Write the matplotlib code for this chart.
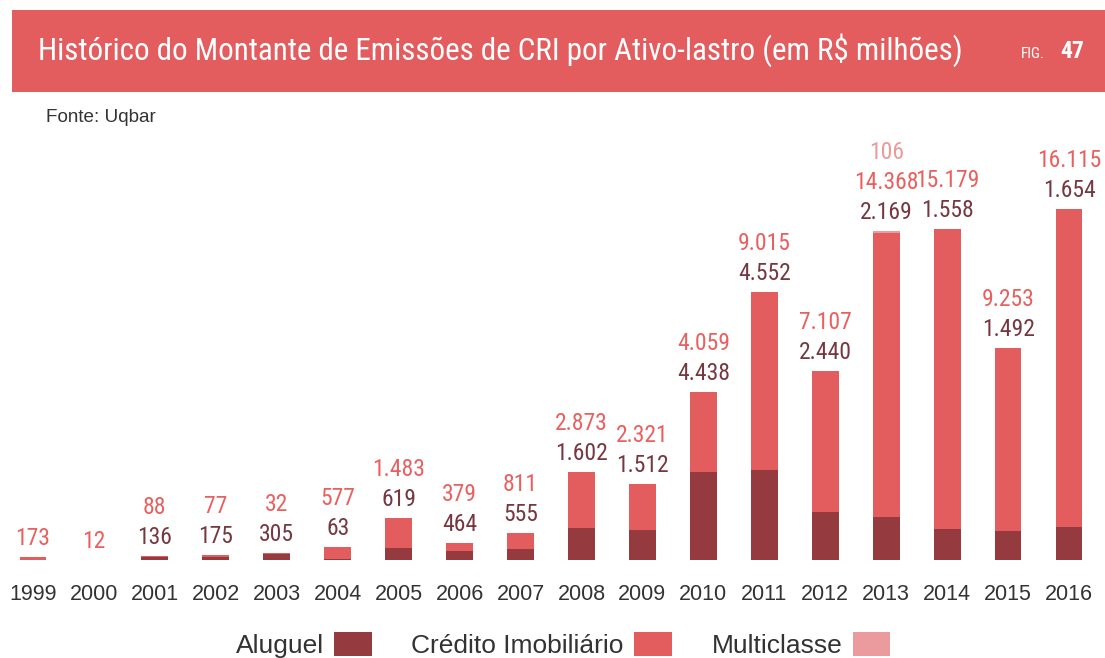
import matplotlib
matplotlib.use("Agg")
import matplotlib.pyplot as plt
from matplotlib.patches import Rectangle, Patch
import numpy as np

years = [str(y) for y in range(1999, 2017)]
aluguel = [0, 0, 136, 175, 305, 63, 619, 464, 555, 1602, 1512, 4438, 4552, 2440, 2169, 1558, 1492, 1654]
credito = [173, 12, 88, 77, 32, 577, 1483, 379, 811, 2873, 2321, 4059, 9015, 7107, 14368, 15179, 9253, 16115]
multiclasse = [0, 0, 0, 0, 0, 0, 0, 0, 0, 0, 0, 0, 0, 0, 106, 0, 0, 0]
series_names = ["Aluguel", "Crédito Imobiliário", "Multiclasse"]

bar_colors = ["#953a3e", "#e35c5e", "#eb9a9e"]
label_colors = ["#763840", "#e8605f", "#eb9a9c"]
banner_color = "#e35d5f"

NARROW = ["Liberation Sans Narrow", "Roboto Condensed", "Liberation Sans", "DejaVu Sans"]
REG = ["Liberation Sans", "DejaVu Sans"]

W, H = 1105, 658
fig = plt.figure(figsize=(W / 100, H / 100), dpi=100)

# banner
fig.patches.append(Rectangle((12 / W, 1 - 92 / H), 1 - 12 / W, 82 / H,
                             transform=fig.transFigure, facecolor=banner_color,
                             edgecolor="none", zorder=0))
fig.text(38 / W, 1 - 50 / H, "Histórico do Montante de Emissões de CRI por Ativo-lastro (em R$ milhões)",
         color="white", fontsize=22.3, family=NARROW, ha="left", va="center")
fig.text(1021 / W, 1 - 54 / H, "FIG.", color="white", fontsize=11, family=NARROW,
         ha="left", va="center")
fig.text(1060 / W, 1 - 52 / H, "47", color="white", fontsize=17, family=NARROW,
         weight="bold", ha="left", va="center")
fig.text(46 / W, 1 - 117 / H, "Fonte: Uqbar", color="#333333", fontsize=13.6,
         family=REG, ha="left", va="center")

ax = fig.add_axes([2.5 / W, (H - 560) / H, 1097 / W, 430 / H])
x = np.arange(len(years))
series = [aluguel, credito, multiclasse]
bottom = np.zeros(len(years))
for vals, col, name in zip(series, bar_colors, series_names):
    ax.bar(x, vals, width=0.44, bottom=bottom, color=col, label=name, linewidth=0)
    bottom = bottom + np.array(vals)
totals = bottom

for i in range(len(years)):
    slot = 0
    for vals, lc in zip(series, label_colors):
        v = vals[i]
        if v:
            txt = f"{v:,}".replace(",", ".")
            ax.annotate(txt, xy=(x[i], totals[i]), xytext=(0, 12 + 30 * slot),
                        textcoords="offset pixels", ha="center", va="baseline",
                        color=lc, fontsize=17, family=NARROW, annotation_clip=False)
            slot += 1

ax.set_xlim(-0.5, len(years) - 0.5)
ax.set_ylim(0, 21750)
ax.set_xticks(x)
ax.set_xticklabels(years, family=REG, fontsize=15.5, color="#333333")
ax.tick_params(axis="x", length=0, pad=17)
ax.set_yticks([])
for s in ax.spines.values():
    s.set_visible(False)
ax.patch.set_alpha(0)

handles = [Patch(facecolor=c, edgecolor="none") for c in bar_colors]
leg = fig.legend(handles, series_names, loc="center", bbox_to_anchor=(563 / W, 13 / H),
                 ncol=3, frameon=False, markerfirst=False,
                 prop={"family": REG, "size": 19}, handlelength=1.42, handleheight=1.05,
                 handletextpad=0.4, columnspacing=1.5, labelcolor="#333333")

fig.savefig("out.png", dpi=100)
